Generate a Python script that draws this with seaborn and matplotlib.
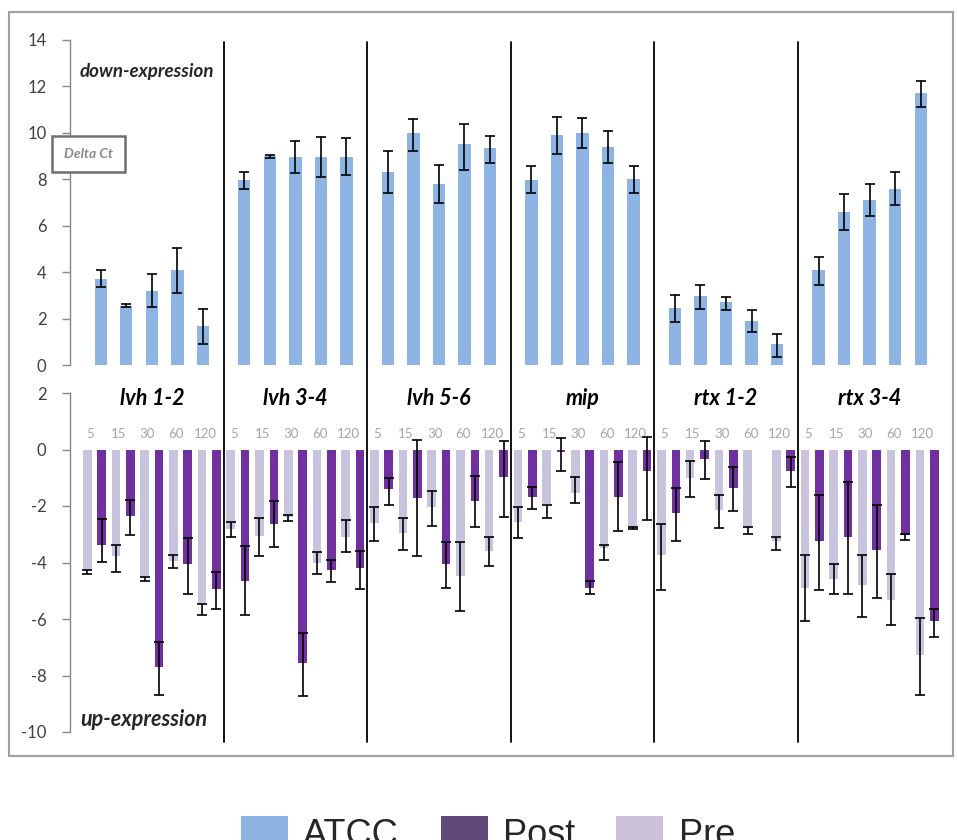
import numpy as np
import pandas as pd
import matplotlib
matplotlib.use("Agg")
import matplotlib.pyplot as plt
import matplotlib.transforms as mtrans
from matplotlib.patches import Patch, Rectangle
import seaborn as sns

# ---------------- data ----------------
genes = ["lvh 1-2", "lvh 3-4", "lvh 5-6", "mip", "rtx 1-2", "rtx 3-4"]
times = ["5", "15", "30", "60", "120"]

# ATCC (delta Ct, top panel) – 5 time points per gene
atcc_val = [3.7, 2.55, 3.2, 4.1, 1.7,
            7.95, 9.0, 8.97, 8.97, 8.97,
            8.3, 10.0, 7.8, 9.5, 9.35,
            7.97, 9.9, 10.0, 9.4, 8.0,
            2.45, 2.97, 2.7, 1.9, 0.9,
            4.1, 6.6, 7.1, 7.6, 11.7]
atcc_lo = [3.35, 2.5, 2.5, 3.1, 0.9,
           7.6, 8.93, 8.26, 8.1, 8.2,
           7.4, 9.2, 7.0, 8.4, 8.7,
           7.4, 9.1, 9.35, 8.7, 7.4,
           1.85, 2.4, 2.35, 1.43, 0.35,
           3.45, 5.8, 6.4, 6.9, 11.1]
atcc_hi = [4.1, 2.62, 3.9, 5.05, 2.4,
           8.3, 9.05, 9.66, 9.83, 9.8,
           9.2, 10.6, 8.6, 10.4, 9.87,
           8.58, 10.7, 10.65, 10.1, 8.58,
           3.0, 3.45, 2.95, 2.37, 1.33,
           4.65, 7.35, 7.8, 8.3, 12.25]

# Pre (bottom panel)
pre_val = [-4.3, -3.78, -4.54, -3.96, -5.48,
           -2.8, -3.05, -2.4, -4.01, -3.08,
           -2.6, -2.96, -2.02, -4.48, -3.6,
           -2.55, -1.94, -1.55, -3.49, -2.77,
           -3.72, -1.02, -2.14, -2.78, -3.25,
           -4.89, -4.6, -4.8, -5.31, -7.27]
pre_hi = [-4.25, -3.39, -4.5, -3.72, -5.46,
          -2.55, -2.41, -2.31, -3.64, -2.51,
          -2.05, -2.41, -1.46, -3.29, -3.1,
          -2.05, -1.96, -0.96, -3.39, -2.74,
          -2.64, -0.41, -1.61, -2.75, -3.1,
          -3.74, -4.07, -3.74, -4.42, -5.97]
pre_lo = [-4.42, -4.34, -4.65, -4.19, -5.87,
          -3.1, -3.78, -2.52, -4.42, -3.64,
          -3.25, -3.54, -2.7, -5.72, -4.13,
          -3.13, -2.43, -1.9, -3.9, -2.8,
          -4.99, -1.67, -2.78, -2.99, -3.54,
          -6.07, -5.13, -5.92, -6.22, -8.69]

# Post (bottom panel)
post_val = [-3.37, -2.37, -7.71, -4.07, -4.95,
            -4.66, -2.63, -7.57, -4.25, -4.19,
            -1.41, -1.73, -4.05, -1.82, -0.99,
            -1.67, -0.08, -4.89, -1.67, -0.76,
            -2.25, -0.35, -1.37, np.nan, -0.76,
            -3.25, -3.11, -3.57, -3.02, -6.07]
post_hi = [-2.46, -1.78, -6.81, -3.13, -4.33,
           -3.43, -1.84, -6.48, -3.9, -3.6,
           -1.02, 0.33, -3.29, -0.93, 0.31,
           -1.31, 0.41, -4.66, -0.46, 0.45,
           -1.35, 0.31, -0.61, np.nan, -0.26,
           -1.61, -1.16, -1.96, -2.99, -5.63]
post_lo = [-3.99, -3.04, -8.69, -5.13, -5.63,
           -5.87, -3.45, -8.74, -4.68, -4.95,
           -1.96, -3.78, -4.89, -2.75, -2.39,
           -2.1, -0.76, -5.13, -2.9, -2.49,
           -3.25, -1.06, -2.19, np.nan, -1.31,
           -4.99, -5.13, -5.25, -3.19, -6.65]

legend_labels = ["ATCC", "Post", "Pre"]

# ---------------- styling ----------------
sns.set_style("white")
plt.rcParams["font.family"] = ["Lato", "DejaVu Sans"]
plt.rcParams["axes.unicode_minus"] = False

C_ATCC = "#8DB4E2"
C_POST = "#7030A0"
C_PRE = "#C8C4DE"
LEG_COLORS = ["#8DB4E2", "#604A7B", "#CCC1DA"]

W, H = 957, 840
fig = plt.figure(figsize=(W / 100, H / 100), dpi=100)

def fx(px):
    return px / W

def fy(py):
    return 1 - py / H

ax_top = fig.add_axes([fx(70), fy(365), fx(950) - fx(70), fy(40) - fy(365)])
ax_bot = fig.add_axes([fx(70), fy(732), fx(950) - fx(70), fy(393) - fy(732)])
for ax in (ax_top, ax_bot):
    ax.patch.set_alpha(0)

ng, nt = len(genes), len(times)

# positions (slot units)
top_x = [10 * g + 4.5 + (j - 2) * 1.78 for g in range(ng) for j in range(nt)]
pre_x = [10 * g + 2 * j for g in range(ng) for j in range(nt)]
post_x = [10 * g + 2 * j + 1 for g in range(ng) for j in range(nt)]

df_top = pd.DataFrame({"x": top_x, "val": atcc_val})
sns.barplot(data=df_top, x="x", y="val", native_scale=True, color=C_ATCC,
            saturation=1, width=0.48, errorbar=None, ax=ax_top, linewidth=0)

df_bot = pd.DataFrame({
    "x": pre_x + post_x,
    "val": pre_val + post_val,
    "kind": ["Pre"] * len(pre_x) + ["Post"] * len(post_x),
})
df_bot = df_bot.dropna()
sns.barplot(data=df_bot, x="x", y="val", hue="kind", native_scale=True,
            dodge=False, palette={"Pre": C_PRE, "Post": C_POST}, saturation=1,
            width=0.6, errorbar=None, legend=False, ax=ax_bot, linewidth=0)

def add_err(ax, xs, lo, hi):
    lo = np.asarray(lo, float)
    hi = np.asarray(hi, float)
    mid = (lo + hi) / 2
    ax.errorbar(xs, mid, yerr=[mid - lo, hi - mid], fmt="none", ecolor="black",
                elinewidth=1.2, capsize=3.3, capthick=1.2, zorder=5)

add_err(ax_top, top_x, atcc_lo, atcc_hi)
add_err(ax_bot, pre_x, pre_lo, pre_hi)
add_err(ax_bot, post_x, post_lo, post_hi)

xl = (-1.2, 60.1)
for ax, lim, ticks in ((ax_top, (0, 14), range(0, 15, 2)),
                       (ax_bot, (-10, 2), range(-10, 3, 2))):
    ax.set_xlim(*xl)
    ax.set_ylim(*lim)
    ax.set_yticks(list(ticks))
    ax.set_xticks([])
    ax.set_xlabel("")
    ax.set_ylabel("")
    for s in ("top", "right", "bottom"):
        ax.spines[s].set_visible(False)
    ax.spines["left"].set_color("#868686")
    ax.spines["left"].set_linewidth(1.0)
    ax.tick_params(axis="y", direction="out", length=6, width=1, color="#868686",
                   pad=11, labelsize=12, labelcolor="#404040", left=True)
    ax.grid(False)

# time labels and gene labels
for g in range(ng):
    for j, t in enumerate(times):
        ax_bot.text(10 * g + 2 * j + 0.2, 0.55, t, ha="center", va="center",
                    fontsize=9.5, color="#A6A6A6")
    ax_bot.text(10 * g + 4.5, 1.8, genes[g], ha="center", va="center",
                fontsize=15.5, fontweight="bold", fontstyle="italic", color="black")

# separators
tr = mtrans.blended_transform_factory(ax_bot.transData, fig.transFigure)
for g in range(1, ng):
    fig.add_artist(plt.Line2D([10 * g - 0.5] * 2, [fy(42), fy(742)], transform=tr,
                              color="black", lw=1.3))

fig.text(fx(80), fy(71), "down-expression", ha="left", va="center", fontsize=13.5,
         fontweight="bold", fontstyle="italic")
fig.text(fx(80), fy(720), "up-expression", ha="left", va="center", fontsize=15.5,
         fontweight="bold", fontstyle="italic")

# Delta Ct box
fig.add_artist(Rectangle((fx(52), fy(172)), fx(125) - fx(52), fy(136) - fy(172),
                         transform=fig.transFigure, facecolor="white",
                         edgecolor="#6e6e6e", lw=1.8, zorder=10))
fig.text(fx(88), fy(154), "Delta Ct", ha="center", va="center", fontsize=10,
         fontstyle="italic", fontweight="bold", color="#8a8a8a", zorder=11)

# outer frame
fig.add_artist(Rectangle((fx(9), fy(756)), fx(953) - fx(9), fy(12) - fy(756),
                         transform=fig.transFigure, fill=False,
                         edgecolor="#a0a0a0", lw=1.5))

handles = [Patch(facecolor=c, edgecolor="none", label=l)
           for c, l in zip(LEG_COLORS, legend_labels)]
fig.legend(handles=handles, loc="upper center", bbox_to_anchor=(fx(488), fy(816)),
           ncol=3, frameon=False, prop={"family": "Liberation Sans", "size": 26},
           handlelength=1.3, handleheight=1.0, handletextpad=0.42,
           columnspacing=1.15, borderpad=0, borderaxespad=0)

fig.savefig("out.png", dpi=100)
